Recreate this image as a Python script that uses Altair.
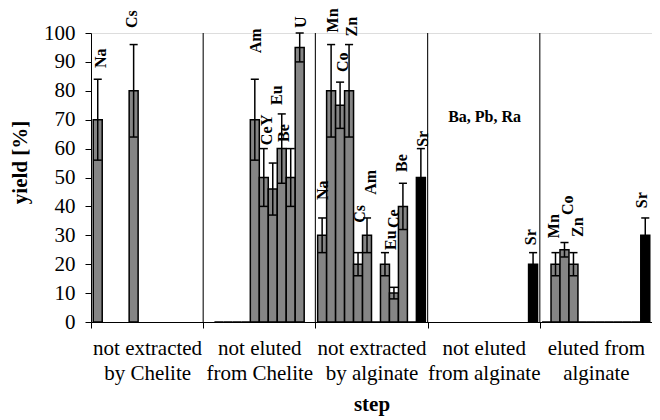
import json
import altair as alt
import pandas as pd

# ---- data ----
elements = ["Na", "Mn", "Co", "Zn", "Cs", "Am", "Ce", "Y", "Eu", "Be", "U", "Sr"]
step_line1 = ["not extracted", "not eluted", "not extracted", "not eluted", "eluted from"]
step_line2 = ["by Chelite", "from Chelite", "by alginate", "from alginate", "alginate"]

N = None
yield_1 = [70, N, N, N, 80, N, N, N, N, N, N, N]
yield_2 = [N, 0, 0, 0, 0, 70, 50, 46, 60, 50, 95, N]
yield_3 = [30, 80, 75, 80, 20, 30, 0, 20, 10, 40, 0, 50]
yield_4 = [N, N, N, N, N, N, N, N, N, N, N, 20]
yield_5 = [0, 20, 25, 20, 0, 0, 0, 0, 0, 0, 0, 30]

err_1 = [14, N, N, N, 16, N, N, N, N, N, N, N]
err_2 = [N, 0, 0, 0, 0, 14, 10, 9, 12, 10, 5, N]
err_3 = [6, 16, 8, 16, 4, 6, 0, 4, 2, 8, 0, 10]
err_4 = [N, N, N, N, N, N, N, N, N, N, N, 4]
err_5 = [0, 4, 2.5, 4, 0, 0, 0, 0, 0, 0, 0, 6]

yields = [yield_1, yield_2, yield_3, yield_4, yield_5]
errors = [err_1, err_2, err_3, err_4, err_5]

# element labels as placed on the chart: text, step index, position within step (bar widths), yield
label_text = ["Na", "Cs",
              "Am", "Ce", "Y", "Eu", "Be", "U",
              "Na", "Mn", "Co", "Zn", "Cs", "Am", "Eu", "Ce", "Be", "Sr",
              "Sr",
              "Mn", "Co", "Zn", "Sr"]
label_step = [0, 0,
              1, 1, 1, 1, 1, 1,
              2, 2, 2, 2, 2, 2, 2, 2, 2, 2,
              3,
              4, 4, 4, 4]
label_pos = [1.10, 4.61,
             5.90, 7.16, 7.16, 8.26, 8.97, 10.95,
             0.87, 1.91, 3.12, 4.11, 4.99, 6.19, 8.39, 8.78, 9.66, 12.0,
             11.49,
             1.63, 3.16, 4.26, 11.40]
label_y = [87.9, 101.7,
           93, 61.2, 67.8, 75.1, 62.3, 101.7,
           42.2, 100.2, 86.5, 98.8, 34.3, 44, 24.9, 32.5, 51.9, 60.6,
           26.6,
           29, 37, 29.4, 39.4]

note_text = ["Ba, Pb, Ra"]
note_step = [3]
note_pos = [6.35]
note_y = [71]

# ---- layout constants ----
n_el = len(elements)
gap = 0.5
gw = n_el + gap                 # one step, in bar widths
n_steps = len(step_line1)
W, H = 561, 289

rows = []
for g in range(n_steps):
    for k in range(n_el):
        v = yields[g][k]
        if v is None:
            continue
        rows.append({"g": g, "k": k, "el": elements[k], "val": v,
                     "err": errors[g][k] or 0})
bars_df = pd.DataFrame(rows)

lab_df = pd.DataFrame({"text": label_text, "g": label_step,
                       "p": label_pos, "v": label_y})
note_df = pd.DataFrame({"text": note_text, "g": note_step,
                        "p": note_pos, "v": note_y})
div_df = pd.DataFrame({"g": list(range(1, n_steps))})

label_lines = [[a, b] for a, b in zip(step_line1, step_line2)]

xscale = alt.Scale(domain=[0, gw * n_steps], nice=False, zero=False)
yscale = alt.Scale(domain=[0, 100], nice=False)

xaxis = alt.Axis(
    values=[g * gw for g in range(n_steps)],
    labelExpr=f"{json.dumps(label_lines)}[round(datum.value / {gw})]",
    labelOffset=W / n_steps / 2,
    labelFlush=False, labelOverlap=False, labelBound=False,
    grid=False, ticks=True, tickSize=6, tickColor="black", tickWidth=1,
    domainColor="black", domainWidth=1,
    labelFontSize=21, labelLineHeight=25, labelBaseline="alphabetic",
    labelPadding=26, labelColor="black", labelFont="Liberation Serif",
    title="step", titleFontSize=21, titleFontWeight="bold",
    titleFont="Liberation Serif", titleColor="black",
    titleBaseline="alphabetic", titleY=88,
)
yaxis = alt.Axis(
    values=list(range(0, 101, 10)), grid=False,
    tickSize=6, tickColor="black", tickWidth=1,
    domainColor="black", domainWidth=1,
    labelFontSize=21, labelPadding=10, labelColor="black",
    labelFont="Liberation Serif", labelBaseline="middle",
    title="yield [%]", titleFontSize=21, titleFontWeight="bold",
    titleFont="Liberation Serif", titleColor="black",
    titleAngle=270, titleAlign="center", titleBaseline="middle",
    titleX=-71, titleY=129,
)


def X(f):
    return alt.X(f, type="quantitative", scale=xscale, axis=xaxis)


def Y(f):
    return alt.Y(f, type="quantitative", scale=yscale, axis=yaxis)


base = alt.Chart(bars_df).transform_calculate(
    x0=f"datum.g * {gw} + {gap / 2} + datum.k",
    x1=f"datum.g * {gw} + {gap / 2} + datum.k + 1",
    xc=f"datum.g * {gw} + {gap / 2} + datum.k + 0.5",
    c0=f"datum.g * {gw} + {gap / 2} + datum.k + 0.05",
    c1=f"datum.g * {gw} + {gap / 2} + datum.k + 0.95",
    lo="datum.val - datum.err",
    hi="datum.val + datum.err",
    zero="0",
    fillc="datum.el == 'Sr' ? '#000000' : '#858585'",
)

dividers = alt.Chart(div_df).transform_calculate(
    xb=f"datum.g * {gw}", y0="0", y1="100"
).mark_rule(color="#222222", strokeWidth=1.2).encode(
    x=X("xb"), y=Y("y0"), y2="y1:Q"
)

bars = base.mark_bar(stroke="black", strokeWidth=1.5).encode(
    x=X("x0"), x2="x1:Q", y=Y("val"), y2="zero:Q",
    fill=alt.Fill("fillc:N", scale=None),
)

eb = base.transform_filter("datum.err > 0")
err_line = eb.mark_rule(color="black", strokeWidth=1.5).encode(
    x=X("xc"), y=Y("lo"), y2="hi:Q"
)
cap_lo = eb.mark_rule(color="black", strokeWidth=1.5).encode(
    x=X("c0"), x2="c1:Q", y=Y("lo")
)
cap_hi = eb.mark_rule(color="black", strokeWidth=1.5).encode(
    x=X("c0"), x2="c1:Q", y=Y("hi")
)

labels = alt.Chart(lab_df).transform_calculate(
    lx=f"datum.g * {gw} + datum.p"
).mark_text(
    angle=270, align="left", baseline="middle", font="Liberation Serif",
    fontSize=16, fontWeight="bold", color="black"
).encode(x=X("lx"), y=Y("v"), text="text:N")

note = alt.Chart(note_df).transform_calculate(
    lx=f"datum.g * {gw} + datum.p"
).mark_text(
    align="center", baseline="middle", font="Liberation Serif",
    fontSize=16, fontWeight="bold", color="black"
).encode(x=X("lx"), y=Y("v"), text="text:N")

chart = alt.layer(
    dividers, bars, err_line, cap_lo, cap_hi, labels, note
).properties(
    width=W, height=H,
    autosize=alt.AutoSizeParams(type="none"),
    padding={"left": 83, "top": 25, "right": 0, "bottom": 96},
    background="white",
).configure_view(stroke=None).configure(font="Liberation Serif")

chart.save("out.html", embed_options={"renderer": "svg", "actions": False})
